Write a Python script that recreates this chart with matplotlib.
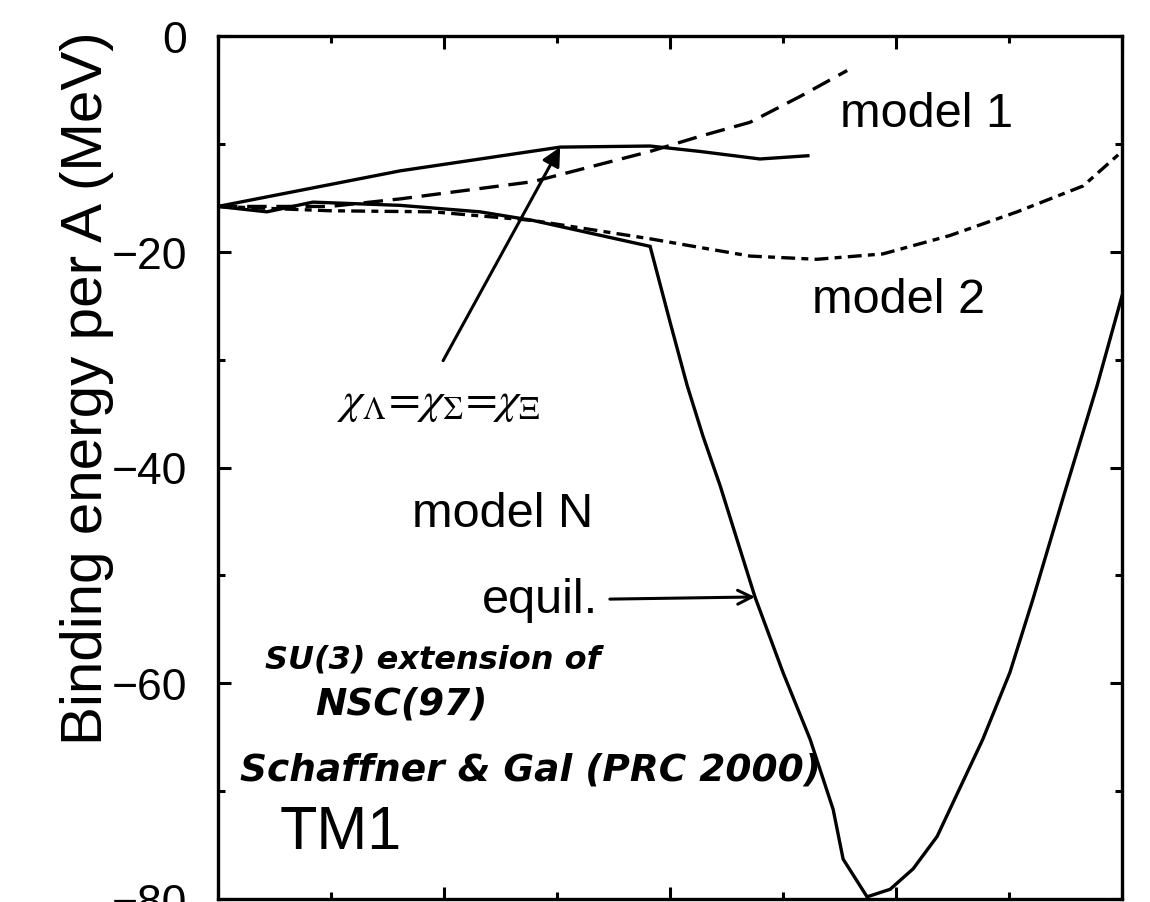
import matplotlib
matplotlib.use("Agg")
import matplotlib.pyplot as plt
from matplotlib.ticker import MultipleLocator, NullFormatter

plt.rcParams['font.family'] = ['Liberation Sans', 'DejaVu Sans']
plt.rcParams['mathtext.fontset'] = 'stix'
plt.rcParams['lines.scale_dashes'] = False

# ---- data (strangeness fraction vs binding energy per baryon) ----
x_equil = [0.0, 0.108, 0.210, 0.403, 0.580, 0.697, 0.956, 1.000, 1.038, 1.073,
           1.111, 1.188, 1.250, 1.310, 1.361, 1.383, 1.436, 1.487, 1.538, 1.591,
           1.692, 1.752, 1.803, 1.869, 1.945, 2.000]
y_equil = [-15.8, -16.3, -15.4, -15.7, -16.3, -17.1, -19.5, -26.5, -32.4, -37.1,
           -41.7, -52.0, -59.0, -65.2, -71.7, -76.3, -79.8, -79.1, -77.2, -74.2,
           -65.2, -59.0, -52.2, -42.9, -32.4, -24.1]

x_chi = [0.0, 0.403, 0.757, 0.956, 1.066, 1.199, 1.305]
y_chi = [-15.8, -12.5, -10.3, -10.2, -10.7, -11.4, -11.1]

x_model1 = [0.0, 0.248, 0.403, 0.697, 0.956, 1.066, 1.177, 1.288, 1.392]
y_model1 = [-15.8, -15.8, -15.1, -13.5, -10.7, -9.3, -8.0, -5.6, -3.2]

x_model2 = [0.0, 0.248, 0.476, 0.697, 0.956, 1.066, 1.177, 1.325, 1.471,
            1.619, 1.768, 1.914, 2.000]
y_model2 = [-15.8, -16.2, -16.3, -17.1, -18.8, -19.6, -20.4, -20.7, -20.2,
            -18.5, -16.3, -13.9, -10.7]

y_ticks = [0, -20, -40, -60, -80]

fig = plt.figure(figsize=(11.5, 9.03), dpi=100)
ax = fig.add_axes([218/1150, 1 - 900/903, (1122 - 218)/1150, (900 - 37)/903])

lw = 2.4
ax.plot(x_equil, y_equil, color='black', lw=lw, solid_joinstyle='miter')
ax.plot(x_chi, y_chi, color='black', lw=lw)
ax.plot(x_model1, y_model1, color='black', lw=lw, dashes=(14, 7))
ax.plot(x_model2, y_model2, color='black', lw=lw, dashes=(10, 4.5, 5, 4.5))

ax.set_xlim(0, 2)
ax.set_ylim(-80, 0)
ax.set_yticks(y_ticks)
ax.set_yticklabels(['0', '\u221220', '\u221240', '\u221260', '\u221280'])
ax.yaxis.set_minor_locator(MultipleLocator(10))
ax.xaxis.set_major_locator(MultipleLocator(0.5))
ax.xaxis.set_minor_locator(MultipleLocator(0.25))
ax.xaxis.set_major_formatter(NullFormatter())
ax.tick_params(which='both', direction='in', top=True, right=True, width=2.2,
               labelbottom=False)
ax.tick_params(which='major', length=9)
ax.tick_params(which='minor', length=5)
ax.tick_params(axis='y', which='major', labelsize=32, pad=22)
for s in ax.spines.values():
    s.set_linewidth(2.4)

ax.set_ylabel('Binding energy per A (MeV)', fontsize=42)
ax.yaxis.set_label_coords(-0.115, 0.593)

tk = dict(fontsize=35, color='black', ha='left', va='baseline')
ax.text(1.376, -8.3, 'model 1', **tk)
ax.text(1.314, -25.6, 'model 2', **tk)
ax.text(0.429, -45.4, 'model N', **tk)
ax.text(0.584, -53.4, 'equil.', **tk)
ax.text(0.137, -75.3, 'TM1', fontsize=44, ha='left', va='baseline')
ax.text(0.263, -34.9, r'$\chi_\Lambda\!=\!\chi_\Sigma\!=\!\chi_\Xi$', fontsize=33,
        ha='left', va='baseline')

hw = dict(family=['DejaVu Sans'], style='italic', weight='bold',
          ha='left', va='baseline')
ax.text(0.104, -58.5, 'SU(3) extension of', fontsize=23, **hw)
ax.text(0.215, -62.8, 'NSC(97)', fontsize=27, **hw)
ax.text(0.049, -68.9, 'Schaffner & Gal (PRC 2000)', fontsize=27, **hw)

ax.annotate('', xy=(0.757, -10.3), xytext=(0.498, -30.1),
            arrowprops=dict(arrowstyle='-|>', lw=2.2, color='black',
                            mutation_scale=28, shrinkA=0, shrinkB=0))
ax.annotate('', xy=(1.188, -52.0), xytext=(0.867, -52.2),
            arrowprops=dict(arrowstyle='->', lw=2.2, color='black',
                            mutation_scale=25, shrinkA=0, shrinkB=0))

fig.savefig('out.png', dpi=100)
